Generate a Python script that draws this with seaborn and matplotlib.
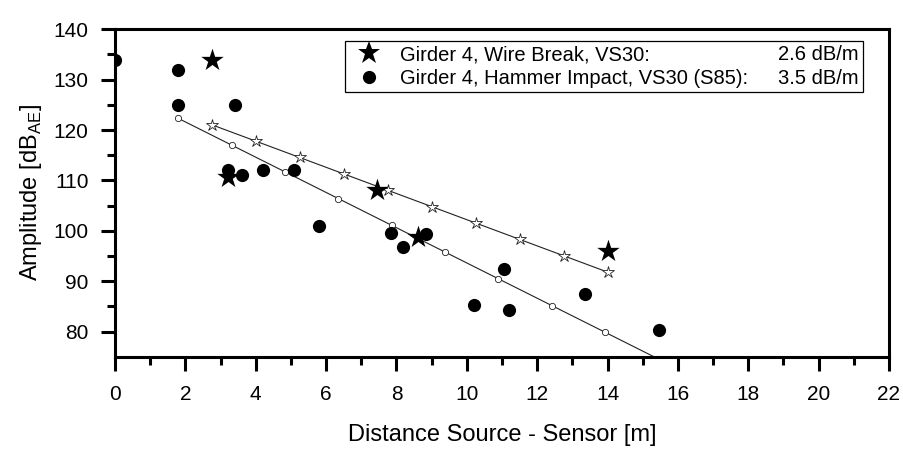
import numpy as np
import pandas as pd
import matplotlib
matplotlib.use("Agg")
import matplotlib.pyplot as plt
from matplotlib.lines import Line2D
import seaborn as sns

# Measured peak amplitudes versus source-sensor distance
wire_dist = [2.75, 3.2, 7.45, 8.6, 14.0]
wire_amp = [134.0, 110.7, 108.0, 98.7, 96.0]

hammer_dist = [0.0, 1.8, 1.8, 3.4, 3.2, 3.6, 4.2, 5.1, 5.8, 7.85, 8.2, 8.85,
               10.2, 11.05, 11.2, 13.35, 15.45]
hammer_amp = [134.0, 132.0, 125.0, 125.0, 112.0, 111.0, 112.0, 112.0, 101.0,
              99.5, 96.7, 99.3, 85.2, 92.4, 84.2, 87.4, 80.4]

series_labels = ["Girder 4, Wire Break, VS30:",
                 "Girder 4, Hammer Impact, VS30 (S85):"]
attenuation = [2.6, 3.5]          # dB/m, slope of each trend line
x_ticks = list(range(0, 23, 2))
y_ticks = list(range(80, 141, 10))

sns.set_theme(style="ticks")
plt.rcParams["font.family"] = ["Liberation Sans", "DejaVu Sans"]
plt.rcParams["mathtext.fontset"] = "custom"
plt.rcParams["mathtext.rm"] = "Liberation Sans"
plt.rcParams["text.color"] = "black"
plt.rcParams["axes.labelcolor"] = "black"
plt.rcParams["xtick.color"] = "black"
plt.rcParams["ytick.color"] = "black"
plt.rcParams["xtick.labelsize"] = 15
plt.rcParams["ytick.labelsize"] = 15

fig = plt.figure(figsize=(9.04, 4.54), dpi=100)
ax = fig.add_axes([0.1272, 0.2143, 0.8562, 0.7212])

wire = pd.DataFrame({"dist": wire_dist, "amp": wire_amp})
hammer = pd.DataFrame({"dist": hammer_dist, "amp": hammer_amp})


def trend(df, slope):
    # straight line with the given attenuation through the centroid of the
    # measurements taken away from the source (distance > 0)
    d = df[df["dist"] > 0]
    xs = np.linspace(d["dist"].min(), d["dist"].max(), 10)
    ys = d["amp"].mean() - slope * (xs - d["dist"].mean())
    return pd.DataFrame({"dist": xs, "amp": ys})


wire_fit = trend(wire, attenuation[0])
hammer_fit = trend(hammer, attenuation[1])

sns.lineplot(data=wire_fit, x="dist", y="amp", ax=ax, color="#222222",
             lw=0.8, marker="*", markersize=9, markerfacecolor="white",
             markeredgecolor="#222222", markeredgewidth=0.6, zorder=2)
sns.lineplot(data=hammer_fit, x="dist", y="amp", ax=ax, color="#222222",
             lw=0.8, marker="o", markersize=4.5, markerfacecolor="white",
             markeredgecolor="#222222", markeredgewidth=0.6, zorder=2)

sns.scatterplot(data=hammer, x="dist", y="amp", ax=ax, marker="o", s=9.5 ** 2,
                color="black", linewidth=0, zorder=3, clip_on=True)
sns.scatterplot(data=wire, x="dist", y="amp", ax=ax, marker="*", s=17 ** 2,
                color="black", linewidth=0, zorder=4)

ax.set_xlim(0, 22)
ax.set_ylim(75, 140)
ax.set_xticks(x_ticks)
ax.set_yticks(y_ticks)
ax.set_xticks(np.arange(1, 22, 2), minor=True)
ax.set_yticks(np.arange(85, 140, 10), minor=True)

for side in ["left", "bottom", "top", "right"]:
    ax.spines[side].set_visible(True)
    ax.spines[side].set_linewidth(2.2)
    ax.spines[side].set_color("black")

ax.tick_params(axis="both", which="major", direction="out", length=10,
               width=2.2, labelsize=15, colors="black")
ax.tick_params(axis="x", which="major", pad=10.5)
ax.tick_params(axis="y", which="major", pad=9)
ax.tick_params(axis="both", which="minor", direction="out", length=5.5,
               width=2.2)
ax.tick_params(top=False, right=False, which="both")

ax.set_xlabel("Distance Source - Sensor [m]", fontsize=17, labelpad=14)
ax.set_ylabel(r"Amplitude [dB$_\mathregular{AE}$]", fontsize=17, labelpad=7)

handles = [
    Line2D([], [], ls="none", marker="*", markersize=17, color="black",
           markeredgewidth=0),
    Line2D([], [], ls="none", marker="o", markersize=9.5, color="black",
           markeredgewidth=0),
    Line2D([], [], ls="none"),
    Line2D([], [], ls="none"),
]
labels = series_labels + [f"{a:.1f} dB/m" for a in attenuation]
leg = ax.legend(handles, labels, ncol=2, loc="upper right",
                bbox_to_anchor=(0.966, 0.965), borderaxespad=0,
                fontsize=14.5, frameon=True, fancybox=False, framealpha=1,
                edgecolor="black", handlelength=2.0, handletextpad=0.55,
                columnspacing=-1.1, labelspacing=0.22, borderpad=0.22)
leg.get_frame().set_linewidth(0.9)

fig.savefig("out.png", dpi=100, facecolor="white")
